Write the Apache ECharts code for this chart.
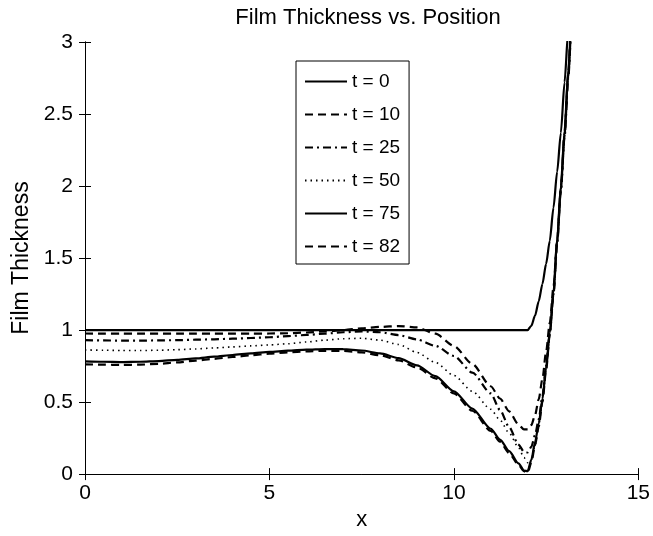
<!DOCTYPE html>
<html>
<head>
<meta charset="utf-8">
<script src="https://cdn.jsdelivr.net/npm/echarts@6/dist/echarts.min.js"></script>
<style>
html, body { margin: 0; padding: 0; background: #fff; }
#main { width: 653px; height: 536px; }
</style>
</head>
<body>
<div id="main"></div>
<script>
var xs = [0, 0.5, 1, 1.5, 2, 2.5, 3, 3.5, 4, 4.5, 5, 5.5, 6, 6.5, 7, 7.5, 8, 8.5, 9, 9.5, 10, 10.5, 11, 11.25, 11.5, 11.75, 11.9, 12, 12.1, 12.2, 12.3, 12.4, 12.5, 12.6, 12.7, 12.8, 12.9, 13, 13.1, 13.2, 13.3];

var t0 = [1, 1, 1, 1, 1, 1, 1, 1, 1, 1, 1, 1, 1, 1, 1, 1, 1, 1, 1, 1, 1, 1, 1, 1, 1, 1, 1, 1, 1.03, 1.1, 1.2, 1.32, 1.46, 1.62, 1.85, 2.1, 2.37, 2.72, 3.08, 3.45, 3.8];
var t10 = [0.976, 0.975, 0.975, 0.975, 0.975, 0.975, 0.975, 0.975, 0.975, 0.975, 0.976, 0.978, 0.983, 0.99, 1.0, 1.012, 1.022, 1.028, 1.018, 0.975, 0.89, 0.765, 0.61, 0.525, 0.435, 0.345, 0.31, 0.31, 0.34, 0.41, 0.52, 0.66, 0.85, 1.05, 1.3, 1.62, 1.98, 2.35, 2.76, 3.17, 3.58];
var t25 = [0.93, 0.928, 0.927, 0.927, 0.928, 0.93, 0.933, 0.936, 0.94, 0.945, 0.95, 0.958, 0.966, 0.975, 0.985, 0.99, 0.985, 0.965, 0.935, 0.89, 0.82, 0.705, 0.56, 0.445, 0.325, 0.205, 0.155, 0.15, 0.19, 0.27, 0.38, 0.54, 0.75, 0.98, 1.25, 1.6, 1.97, 2.34, 2.75, 3.16, 3.57];
var t50 = [0.862, 0.86, 0.858, 0.858, 0.86, 0.864, 0.869, 0.876, 0.883, 0.89, 0.897, 0.905, 0.917, 0.93, 0.94, 0.943, 0.93, 0.9, 0.845, 0.775, 0.685, 0.575, 0.45, 0.375, 0.285, 0.185, 0.115, 0.08, 0.1, 0.2, 0.34, 0.51, 0.73, 0.97, 1.25, 1.6, 1.97, 2.35, 2.76, 3.17, 3.58];
var t75 = [0.783, 0.78, 0.778, 0.78, 0.785, 0.793, 0.803, 0.815, 0.827, 0.838, 0.848, 0.857, 0.864, 0.868, 0.867, 0.858, 0.838, 0.805, 0.755, 0.68, 0.575, 0.455, 0.315, 0.24, 0.16, 0.075, 0.025, 0.02, 0.1, 0.22, 0.35, 0.52, 0.74, 0.98, 1.26, 1.63, 2.0, 2.38, 2.8, 3.2, 3.6];
var t82 = [0.762, 0.76, 0.758, 0.76, 0.766, 0.776, 0.788, 0.8, 0.813, 0.825, 0.836, 0.845, 0.852, 0.856, 0.855, 0.845, 0.825, 0.79, 0.74, 0.665, 0.56, 0.44, 0.3, 0.225, 0.145, 0.065, 0.02, 0.01, 0.08, 0.2, 0.33, 0.5, 0.72, 0.97, 1.25, 1.62, 1.98, 2.36, 2.78, 3.2, 3.6];

var names = ['t = 0', 't = 10', 't = 25', 't = 50', 't = 75', 't = 82'];
var curves = [t0, t10, t25, t50, t75, t82];
var dashes = ['solid', [8, 5], [8, 4, 2, 4], [1.5, 4], 'solid', [8, 5]];

function pairs(ys) {
    return xs.map(function (x, i) { return [x, ys[i]]; });
}

var font = 'Liberation Sans, Arial, sans-serif';

var series = curves.map(function (ys, i) {
    return {
        name: names[i],
        type: 'line',
        data: pairs(ys),
        showSymbol: false,
        symbol: 'none',
        smooth: 0.25,
        smoothMonotone: 'x',
        color: '#000',
        lineStyle: { color: '#000', width: i == 3 ? 1.6 : 2.2, type: dashes[i] },
        animation: false
    };
});

var myChart = echarts.init(document.getElementById('main'));
myChart.setOption({
    backgroundColor: '#fff',
    title: {
        text: 'Film Thickness vs. Position',
        left: 363, top: 2, textAlign: 'center',
        textStyle: { fontFamily: font, fontSize: 22, fontWeight: 'normal', color: '#000' }
    },
    legend: {
        orient: 'vertical',
        left: 296, top: 61,
        padding: [11, 9, 8, 8],
        itemWidth: 42, itemHeight: 14, itemGap: 14, itemTextGap: 9,
        borderColor: '#000', borderWidth: 1,
        backgroundColor: '#fff',
        itemStyle: { opacity: 0 },
        textStyle: { fontFamily: font, fontSize: 19, color: '#000' },
        data: names
    },
    grid: { left: 85, right: 13, top: 42, bottom: 56 },
    xAxis: [{
        type: 'value', min: 0, max: 15, interval: 5,
        name: 'x', nameLocation: 'middle', nameGap: 32,
        nameTextStyle: { fontFamily: font, fontSize: 22, color: '#000' },
        axisLine: { lineStyle: { color: '#000' } },
        axisTick: { inside: true, length: 6, lineStyle: { color: '#000' } },
        axisLabel: { fontFamily: font, fontSize: 21, color: '#000', margin: 9 },
        splitLine: { show: false }
    }, {
        type: 'value', min: 0, max: 15, interval: 5, position: 'top',
        axisLine: { lineStyle: { color: '#000' } },
        axisTick: { inside: true, length: 6, lineStyle: { color: '#000' } },
        axisLabel: { show: false },
        splitLine: { show: false }
    }],
    yAxis: [{
        type: 'value', min: 0, max: 3, interval: 0.5,
        name: 'Film Thickness', nameLocation: 'middle', nameGap: 52,
        nameTextStyle: { fontFamily: font, fontSize: 23, color: '#000' },
        axisLine: { show: true, lineStyle: { color: '#000' } },
        axisTick: { show: true, inside: true, length: 6, lineStyle: { color: '#000' } },
        axisLabel: { fontFamily: font, fontSize: 21, color: '#000', margin: 12 },
        splitLine: { show: false }
    }, {
        type: 'value', min: 0, max: 3, interval: 0.5, position: 'right',
        axisLine: { show: true, lineStyle: { color: '#000' } },
        axisTick: { show: true, inside: true, length: 6, lineStyle: { color: '#000' } },
        axisLabel: { show: false },
        splitLine: { show: false }
    }],
    series: series
});
</script>
</body>
</html>
